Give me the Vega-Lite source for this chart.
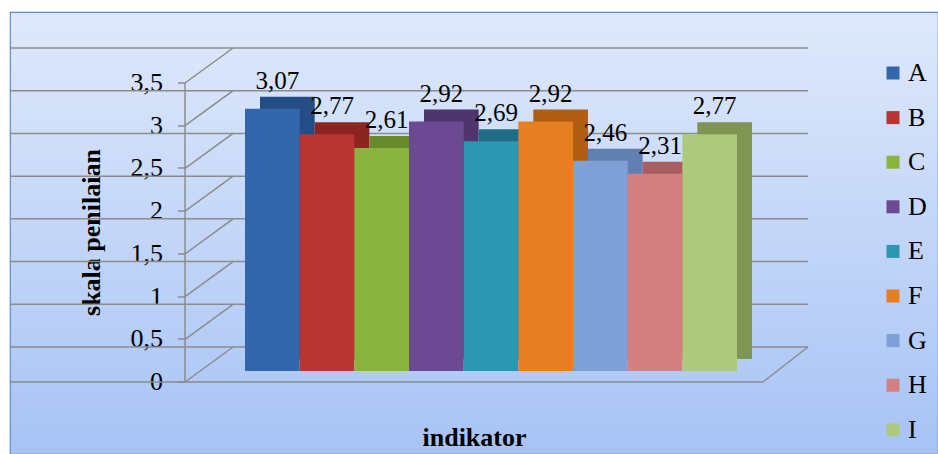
{
  "$schema": "https://vega.github.io/schema/vega-lite/v6.json",
  "width": 928,
  "height": 442,
  "autosize": "none",
  "padding": {"left": 10, "top": 12, "right": 0, "bottom": 0},
  "background": "white",
  "config": {
    "locale": {"number": {"decimal": ",", "thousands": ".", "grouping": [3], "currency": ["", ""]}},
    "font": "Liberation Serif",
    "view": {
      "fill": {
        "gradient": "linear", "x1": 0, "y1": 0, "x2": 0, "y2": 1,
        "stops": [{"offset": 0, "color": "#dfe9fb"}, {"offset": 1, "color": "#a7c3f5"}]
      },
      "stroke": "#5b8bd0",
      "strokeWidth": 1.2
    },
    "legend": {
      "orient": "none",
      "legendX": 870,
      "legendY": 48,
      "title": null,
      "symbolType": "square",
      "symbolSize": 169,
      "symbolStrokeWidth": 0,
      "labelFont": "Liberation Serif",
      "labelFontSize": 26,
      "labelColor": "black",
      "labelOffset": 2,
      "rowPadding": 18.6
    }
  },
  "datasets": {
    "nilai": [
      {"indikator": "A", "nilai": 3.07},
      {"indikator": "B", "nilai": 2.77},
      {"indikator": "C", "nilai": 2.61},
      {"indikator": "D", "nilai": 2.92},
      {"indikator": "E", "nilai": 2.69},
      {"indikator": "F", "nilai": 2.92},
      {"indikator": "G", "nilai": 2.46},
      {"indikator": "H", "nilai": 2.31},
      {"indikator": "I", "nilai": 2.77}
    ],
    "skala": [
      {"nilai": 0}, {"nilai": 0.5}, {"nilai": 1}, {"nilai": 1.5},
      {"nilai": 2}, {"nilai": 2.5}, {"nilai": 3}, {"nilai": 3.5}
    ]
  },
  "layer": [
    {
      "description": "back wall gridlines",
      "data": {"name": "skala"},
      "mark": {"type": "rule", "color": "#8c8c8c", "strokeWidth": 1.5, "x2Offset": 223, "xOffset": -130},
      "encoding": {
        "y": {"field": "nilai", "type": "quantitative", "scale": {"domain": [0, 3.5], "range": [335, 36]}}
      }
    },
    {
      "description": "side wall lines joining the front axis to the back wall",
      "data": {"name": "skala"},
      "mark": {"type": "rule", "color": "#8c8c8c", "strokeWidth": 1.5, "xOffset": -87.3, "x2Offset": -39.3, "yOffset": 35, "y2Offset": 0},
      "encoding": {
        "x": {"datum": "A", "type": "nominal"},
        "x2": {"datum": "A"},
        "y": {"field": "nilai", "type": "quantitative"},
        "y2": {"field": "nilai"}
      }
    },
    {
      "description": "front edge of the floor",
      "data": {"values": [{}]},
      "mark": {"type": "rule", "color": "#8c8c8c", "strokeWidth": 1.5, "x2Offset": 175, "xOffset": -175, "yOffset": 35},
      "encoding": {"y": {"datum": 0, "type": "quantitative"}}
    },
    {
      "description": "right edge of the floor",
      "data": {"values": [{}]},
      "mark": {"type": "rule", "color": "#8c8c8c", "strokeWidth": 1.5, "xOffset": 53.3, "x2Offset": 98.3, "yOffset": 35, "y2Offset": 0},
      "encoding": {
        "x": {"datum": "I", "type": "nominal"},
        "x2": {"datum": "I"},
        "y": {"datum": 0, "type": "quantitative"},
        "y2": {"datum": 0}
      }
    },
    {
      "description": "bar depth (side and top faces)",
      "data": {"name": "nilai"},
      "mark": {"type": "bar", "xOffset": 15, "yOffset": 12, "y2Offset": 12},
      "encoding": {
        "x": {"field": "indikator", "type": "nominal"},
        "y": {"field": "nilai", "type": "quantitative"},
        "fill": {
          "field": "indikator", "type": "nominal", "legend": null,
          "scale": {"range": ["#244d86", "#8c2522", "#698a2c", "#4e356e", "#1e6f86", "#b05e14", "#6180b2", "#a85e5e", "#7e9554"]}
        }
      }
    },
    {
      "description": "bar front faces",
      "data": {"name": "nilai"},
      "mark": {"type": "bar", "yOffset": 24, "y2Offset": 24},
      "encoding": {
        "x": {
          "field": "indikator", "type": "nominal",
          "scale": {"range": [235, 727], "paddingInner": 0, "paddingOuter": 0},
          "axis": {
            "title": "indikator", "labels": false, "ticks": false, "domain": false, "grid": false,
            "titleFont": "Liberation Serif", "titleFontSize": 26, "titleFontWeight": "bold", "titleColor": "black",
            "titleX": 464, "titleY": -9, "titleBaseline": "alphabetic"
          }
        },
        "y": {
          "field": "nilai", "type": "quantitative",
          "axis": {
            "title": "skala penilaian", "values": [0, 0.5, 1, 1.5, 2, 2.5, 3, 3.5], "format": "~g", "grid": false,
            "offset": -140, "translate": 35,
            "domainColor": "#8c8c8c", "domainWidth": 1.5, "tickColor": "#8c8c8c", "tickWidth": 1.5, "tickSize": 7,
            "labelFont": "Liberation Serif", "labelFontSize": 26, "labelColor": "black", "labelPadding": 15,
            "titleFont": "Liberation Serif", "titleFontSize": 26, "titleFontWeight": "bold", "titleColor": "black",
            "titlePadding": 26
          }
        },
        "color": {
          "field": "indikator", "type": "nominal",
          "scale": {"range": ["#3266ad", "#b83532", "#8ab43e", "#6c4993", "#2b97b3", "#e67e22", "#7fa0d6", "#d58080", "#adc97e"]}
        }
      }
    },
    {
      "description": "value labels",
      "data": {"name": "nilai"},
      "mark": {"type": "text", "yOffset": 24, "dy": -20, "dx": 5, "baseline": "alphabetic", "font": "Liberation Serif", "fontSize": 25, "color": "black"},
      "encoding": {
        "x": {"field": "indikator", "type": "nominal"},
        "y": {"field": "nilai", "type": "quantitative"},
        "text": {"field": "nilai", "type": "quantitative", "format": ".2f"}
      }
    }
  ]
}
